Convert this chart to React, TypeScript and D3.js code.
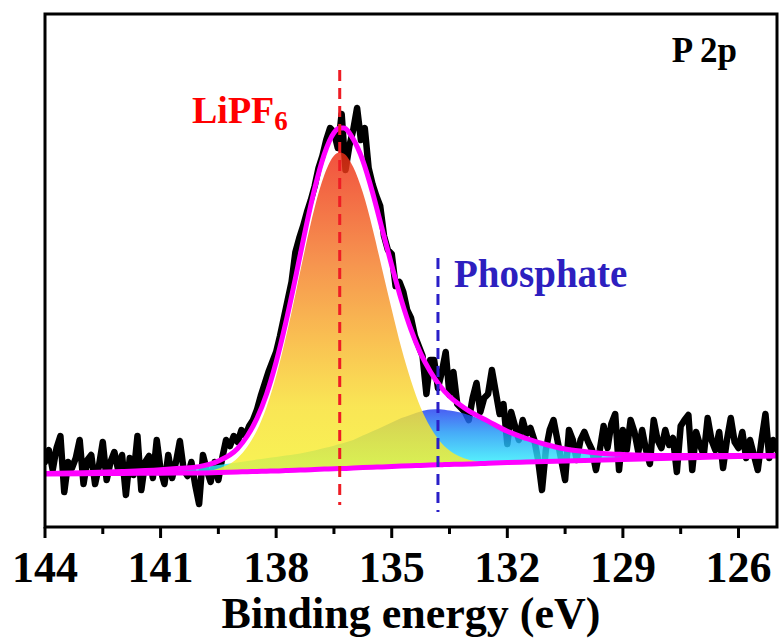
import React from 'react';
import * as d3 from 'd3';

// ---- Data (binding energy in eV, intensity in arbitrary units) ----
const RAW_START = 144;
const RAW_STEP = 0.1;
const RAW_INTENSITY = [
  65, 77, 57, 79, 91, 35, 65, 59, 69, 87,
  43, 67, 72, 43, 61, 85, 47, 65, 75, 57,
  72, 32, 69, 52, 91, 37, 65, 71, 49, 87,
  57, 43, 72, 49, 65, 86, 57, 51, 65, 42,
  23, 72, 57, 45, 65, 47, 69, 87,
  81, 91, 85, 97, 91, 101, 107, 117, 131, 143, 155, 165, 175, 191, 209, 227,
  245, 275, 289, 301,
  315, 327, 341, 359, 371, 387, 399,
  395, 379, 413, 357, 381, 397, 419, 387, 399,
  359, 343, 331, 321, 291, 277, 273, 241, 245, 235, 217, 209, 191, 181, 171,
  133, 167, 167, 139, 155, 175, 132, 155, 123, 119,
  115, 107, 129, 144, 115, 129, 133, 157, 135, 113,
  123, 83, 115, 101, 87, 107, 93, 99, 87, 67,
  37, 77, 97, 107, 87, 67, 47, 97, 87, 67,
  87, 95, 85, 77, 57, 77, 101, 79, 103, 113,
  57, 97, 77, 107, 95, 75, 97, 77, 63, 107,
  87, 79, 97, 82, 89, 55, 101, 107, 112, 57,
  95, 82, 72, 109, 87, 77, 95, 59, 87, 109,
  85, 79, 95, 69, 87, 72, 57, 87, 113, 69,
  87, 77,
];

const FIT_ENERGY = [
  144, 143, 142, 141, 140.5, 140, 139.5, 139, 138.75, 138.5, 138.25, 138, 137.75, 137.5,
  137.25, 137, 136.75, 136.5, 136.35, 136.25, 136, 135.75, 135.5, 135.25, 135, 134.75,
  134.5, 134.25, 134, 133.75, 133.5, 133.25, 133, 132.5, 132, 131.5, 131, 130.5, 130,
  129.5, 129, 128, 127, 126, 125,
];
const BASELINE = [
  53, 53.3, 53.5, 53.8, 53.9, 54, 54.5, 55, 55.3, 55.5, 55.8, 56, 56.4, 56.8,
  57.1, 57.5, 57.9, 58.3, 58.5, 58.6, 59, 59.4, 59.8, 60.1, 60.5, 60.9,
  61.3, 61.6, 62, 62.3, 62.5, 62.8, 63, 63.8, 64.5, 65, 65.5, 66, 66.5,
  67, 67.5, 68.5, 69.5, 70.5, 71,
];
const LIPF6 = [
  0, 0, 0, 0, 0.3, 0.9, 3.9, 14, 25, 41, 64, 95, 133, 176,
  221, 262, 294, 313, 316, 315, 301, 275, 239, 198, 157, 118,
  85, 58, 38, 23.5, 14, 8, 4.2, 1.1, 0.2, 0, 0, 0, 0,
  0, 0, 0, 0, 0, 0,
];
const PHOSPHATE = [
  0.5, 1, 2, 3.5, 4.5, 5.5, 7.5, 9.5, 10.7, 12, 13, 14, 15, 16,
  17.5, 19, 21, 23, 24.5, 25.5, 28, 32, 36, 40, 44, 48,
  51, 54, 55.5, 55.5, 54, 52, 49, 41, 31, 23.5, 17, 12, 9,
  6.5, 5, 3, 2, 1, 0.5,
];

const X_TICKS = [144, 141, 138, 135, 132, 129, 126];
const X_MINOR = [142.5, 139.5, 136.5, 133.5, 130.5, 127.5];
const LIPF6_CENTER = 136.35;
const PHOSPHATE_CENTER = 133.8;
const LIPF6_LINE = [22, 457];
const PHOSPHATE_LINE = [15, 269];

const FONT = '"Liberation Serif", "Times New Roman", serif';

export default function App() {
  const x = d3.scaleLinear().domain([144, 125]).range([45, 777]);
  const y = d3.scaleLinear().domain([0, 513]).range([527, 14]);

  const raw = RAW_INTENSITY.map((v, i) => ({ e: RAW_START - RAW_STEP * i, v }));
  const fit = FIT_ENERGY.map((e, i) => ({
    e,
    b: BASELINE[i],
    l: LIPF6[i],
    p: PHOSPHATE[i],
  }));

  const rawLine = d3
    .line<{ e: number; v: number }>()
    .x((d) => x(d.e))
    .y((d) => y(d.v))
    .curve(d3.curveLinear);

  type F = { e: number; b: number; l: number; p: number };
  const areaL = d3
    .area<F>()
    .x((d) => x(d.e))
    .y0((d) => y(d.b))
    .y1((d) => y(d.b + d.l))
    .curve(d3.curveMonotoneX);
  const areaP = d3
    .area<F>()
    .x((d) => x(d.e))
    .y0((d) => y(d.b))
    .y1((d) => y(d.b + d.p))
    .curve(d3.curveMonotoneX);
  const envLine = d3
    .line<F>()
    .x((d) => x(d.e))
    .y((d) => y(d.b + d.l + d.p))
    .curve(d3.curveMonotoneX);
  const baseLine = d3
    .line<F>()
    .x((d) => x(d.e))
    .y((d) => y(d.b))
    .curve(d3.curveMonotoneX);

  const [x0, x1] = x.range();
  const [yb, yt] = y.range();

  return (
    <svg
      width={779}
      height={641}
      style={{ position: 'absolute', left: 0, top: 0, background: '#fff' }}
      fontFamily={FONT}
    >
      <defs>
        <linearGradient id="gL" gradientUnits="userSpaceOnUse" x1="0" x2="0" y1={150} y2={470}>
          <stop offset="0" stopColor="#ee2a14" />
          <stop offset="0.35" stopColor="#f47c28" />
          <stop offset="0.6" stopColor="#f8b42c" />
          <stop offset="0.8" stopColor="#f8e030" />
          <stop offset="1" stopColor="#f6f02e" />
        </linearGradient>
        <linearGradient id="gP" gradientUnits="userSpaceOnUse" x1="0" x2="0" y1={408} y2={462}>
          <stop offset="0" stopColor="#2238f0" />
          <stop offset="0.45" stopColor="#1e98f6" />
          <stop offset="1" stopColor="#30ecfc" />
        </linearGradient>
        <clipPath id="plotClip">
          <rect x={x0} y={yt} width={x1 - x0} height={yb - yt} />
        </clipPath>
      </defs>

      <g clipPath="url(#plotClip)">
        <path
          d={rawLine(raw) || ''}
          fill="none"
          stroke="#000"
          strokeWidth={6.5}
          strokeLinejoin="round"
          strokeLinecap="round"
        />
        <path d={areaP(fit) || ''} fill="url(#gP)" fillOpacity={0.82} />
        <path d={areaL(fit) || ''} fill="url(#gL)" fillOpacity={0.82} />
        <path d={baseLine(fit) || ''} fill="none" stroke="#ff00ff" strokeWidth={5} />
        <path d={envLine(fit) || ''} fill="none" stroke="#ff00ff" strokeWidth={5} />
      </g>

      <line
        x1={x(LIPF6_CENTER)}
        x2={x(LIPF6_CENTER)}
        y1={y(LIPF6_LINE[1])}
        y2={y(LIPF6_LINE[0])}
        stroke="#ee1c24"
        strokeWidth={3}
        strokeDasharray="11 7"
      />
      <line
        x1={x(PHOSPHATE_CENTER)}
        x2={x(PHOSPHATE_CENTER)}
        y1={y(PHOSPHATE_LINE[1])}
        y2={y(PHOSPHATE_LINE[0])}
        stroke="#2a1fc8"
        strokeWidth={3}
        strokeDasharray="11 7"
      />

      {/* frame */}
      <rect x={x0} y={yt} width={x1 - x0} height={yb - yt} fill="none" stroke="#000" strokeWidth={3} />

      {/* ticks */}
      {X_TICKS.map((t) => (
        <g key={'t' + t}>
          <line x1={x(t)} x2={x(t)} y1={yb} y2={yb + 11} stroke="#000" strokeWidth={3} />
          <text
            x={x(t)}
            y={582}
            textAnchor="middle"
            fontSize={44}
            fontWeight="bold"
            fill="#000"
          >
            {t}
          </text>
        </g>
      ))}
      {X_MINOR.map((t) => (
        <line key={'m' + t} x1={x(t)} x2={x(t)} y1={yb} y2={yb + 7} stroke="#000" strokeWidth={3} />
      ))}

      <text x={(x0 + x1) / 2} y={628} textAnchor="middle" fontSize={44} fontWeight="bold" fill="#000">
        Binding energy (eV)
      </text>

      <text x={737} y={62} textAnchor="end" fontSize={35} fontWeight="bold" fill="#000">
        P 2p
      </text>

      <text x={192} y={123} fontSize={38} fontWeight="bold" fill="#ff0000">
        LiPF
        <tspan fontSize={27} dy={7}>
          6
        </tspan>
      </text>

      <text x={454} y={287} fontSize={39} fontWeight="bold" fill="#2d1fbf">
        Phosphate
      </text>
    </svg>
  );
}
